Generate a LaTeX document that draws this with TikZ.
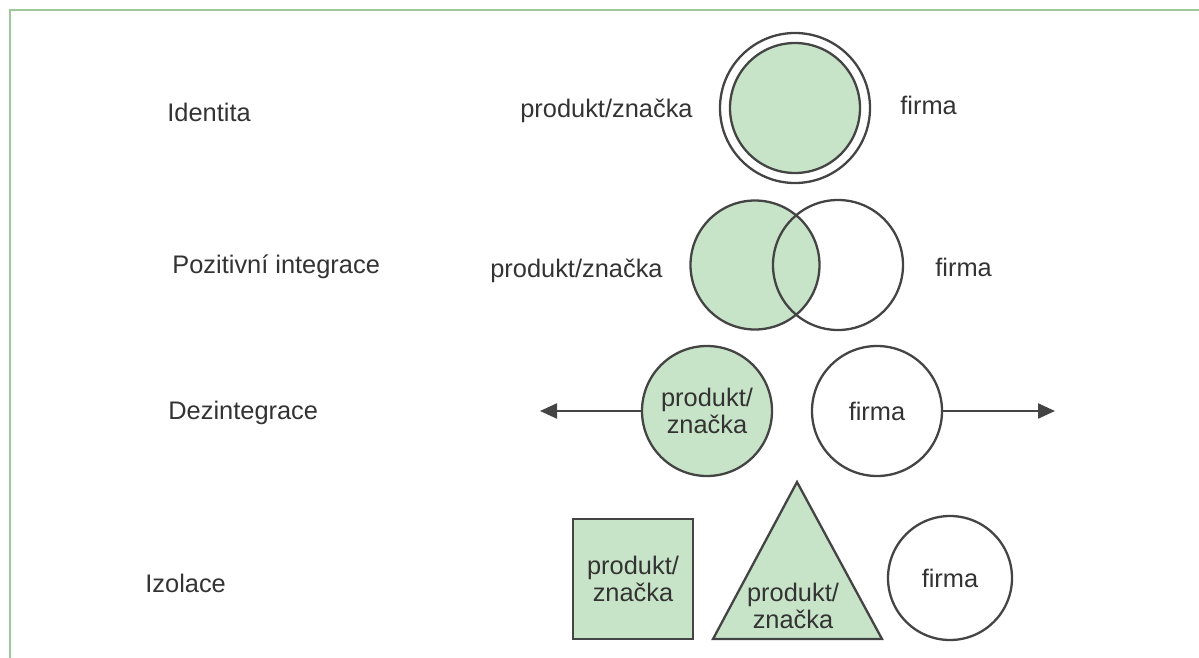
\documentclass[tikz,border=0pt]{standalone}
\usepackage{fontspec}
\setmainfont{Liberation Sans}
\usepackage{xcolor}
\usepackage{tikz}
\usetikzlibrary{positioning,arrows.meta}
\definecolor{fgfill}{HTML}{C8E4C8}
\definecolor{fgline}{HTML}{444444}
\definecolor{fgtext}{HTML}{333333}
\definecolor{frame}{HTML}{9CC89C}

\begin{document}
\begin{tikzpicture}[
        x=0.5pt, y=-0.5pt,
        every node/.style={
            text=fgtext,
            inner sep=0pt,
            align=center,
            font=\fontsize{12.7}{13.5}\selectfont
        },
        rowlabel/.style={anchor=base west},
        blob/.style={
            circle,
            draw=fgline,
            line width=1.15pt
        },
        brand/.style={blob, fill=fgfill},
        firm/.style={blob, fill=white},
        arrow/.style={
            ->,
            >={Triangle[length=8.5pt,width=7.5pt]},
            line width=1.15pt,
            color=fgline
        }
    ]
        \useasboundingbox (0,0) rectangle (1199,658);
        \draw[frame, line width=1.2pt] (10,658) -- (10,10) -- (1199,10);

        % row labels
        \node[rowlabel] (identita) at (167,121) {Identita};
        \node[rowlabel] (pozitivni) at (172,273) {Pozitivní integrace};
        \node[rowlabel] (dezint) at (168,419) {Dezintegrace};
        \node[rowlabel] (izolace) at (145,592) {Izolace};

        % identita
        \node[firm, minimum size=75pt] (idout) at (795,108) {};
        \node[brand, minimum size=65pt] (idin) at (idout) {};
        \node[anchor=base east] (idbrand) at (693,118) {produkt/značka};
        \node[anchor=base west] (idfirm) at (900,115) {firma};

        % pozitivni integrace
        \node[brand, minimum size=64.5pt] (pibrand) at (755,265) {};
        \node[blob, minimum size=65pt] (pifirm) at (838,265) {};
        \node[anchor=base east] (pibrandtxt) at (663,277) {produkt/značka};
        \node[anchor=base west] (pifirmtxt) at (935,276) {firma};

        % dezintegrace
        \node[brand, minimum size=65pt] (debrand) at (707,411) {produkt/\\značka};
        \node[firm, minimum size=65pt] (defirm) at (877,411) {firma};
        \coordinate (deleft) at (540,411);
        \coordinate (deright) at (1055,411);
        \draw[arrow] (debrand) -- (deleft);
        \draw[arrow] (defirm) -- (deright);

        % izolace
        \node[draw=fgline, fill=fgfill, line width=1.15pt, minimum size=60pt] (izbox) at (633,579) {produkt/\\značka};
        \coordinate (iztop) at (797,482);
        \coordinate (izleft) at (713,639);
        \coordinate (izright) at (882,639);
        \draw[draw=fgline, fill=fgfill, line width=1.15pt] (iztop) -- (izright) -- (izleft) -- cycle;
        \node (iztri) at (793,606) {produkt/\\značka};
        \node[firm, minimum size=62pt] (izfirm) at (950,578) {firma};
    \end{tikzpicture}
\end{document}
